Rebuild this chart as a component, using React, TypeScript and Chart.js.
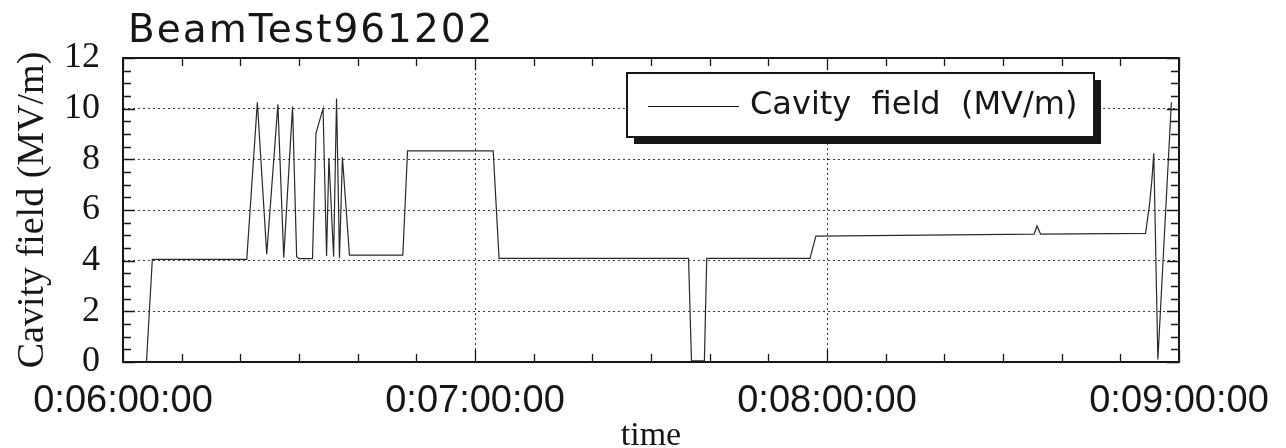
import React, { useEffect, useRef } from "react";
import { Chart, registerables } from "chart.js";

Chart.register(...registerables);

const chartTitle = "BeamTest961202";
const seriesLabel = "Cavity  field  (MV/m)";
const xAxisTitle = "time";
const yAxisTitle = "Cavity field (MV/m)";

// x axis: minutes after 0:06:00:00
const xTickValues = [0, 60, 120, 180];
const xTickLabels = ["0:06:00:00", "0:07:00:00", "0:08:00:00", "0:09:00:00"];

const timeMin = [
  4.0, 5.0, 21.1, 22.9, 24.5, 26.4, 27.4, 28.9, 29.6, 30.0, 32.3, 32.9, 34.1, 34.7,
  35.1, 35.9, 36.4, 36.9, 37.4, 38.6, 47.7, 48.5, 63.1, 64.1, 96.4, 96.9, 99.1, 99.5,
  117.1, 118.1, 155.3, 155.8, 156.4, 174.3, 175.0, 175.4, 175.7, 176.4, 178.7,
];
const fieldMV = [
  0.0, 4.05, 4.05, 10.25, 4.25, 10.17, 4.12, 10.08, 4.16, 4.08, 4.08, 9.04, 10.0, 4.18,
  8.05, 4.16, 10.4, 4.12, 8.08, 4.22, 4.22, 8.33, 8.33, 4.09, 4.09, 0.05, 0.05, 4.09,
  4.09, 4.97, 5.05, 5.37, 5.05, 5.08, 6.26, 7.25, 8.24, 0.1, 10.25,
];

const INK = "#161616";

const decorPlugin = {
  id: "decor",
  afterDatasetsDraw(chart: any) {
    const { ctx, chartArea: a, scales } = chart;
    const xs = scales.x;
    const ys = scales.y;
    ctx.save();
    // inward ticks
    ctx.strokeStyle = INK;
    ctx.lineWidth = 1.3;
    ctx.beginPath();
    for (let m = xs.min; m <= xs.max + 1e-9; m += 10) {
      const px = Math.round(xs.getPixelForValue(m)) + 0.5;
      const len = m % 60 === 0 ? 12 : 8;
      ctx.moveTo(px, a.bottom);
      ctx.lineTo(px, a.bottom - len);
      ctx.moveTo(px, a.top);
      ctx.lineTo(px, a.top + len);
    }
    for (let v = ys.min; v <= ys.max + 1e-9; v += 0.5) {
      const py = Math.round(ys.getPixelForValue(v)) + 0.5;
      const len = Math.abs(v % 2) < 1e-9 ? 12 : 8;
      ctx.moveTo(a.left, py);
      ctx.lineTo(a.left + len, py);
      ctx.moveTo(a.right, py);
      ctx.lineTo(a.right - len, py);
    }
    ctx.stroke();
    // frame
    ctx.lineWidth = 2;
    ctx.strokeRect(a.left, a.top, a.right - a.left, a.bottom - a.top);

    // legend box with shadow
    const lx = 627, ly = 73, lw = 467, lh = 64, sh = 7;
    ctx.fillStyle = INK;
    ctx.fillRect(lx + sh, ly + sh, lw, lh);
    ctx.fillStyle = "#ffffff";
    ctx.fillRect(lx, ly, lw, lh);
    ctx.lineWidth = 2;
    ctx.strokeStyle = INK;
    ctx.strokeRect(lx, ly, lw, lh);
    ctx.lineWidth = 1;
    ctx.beginPath();
    ctx.moveTo(lx + 21, ly + 33.5);
    ctx.lineTo(lx + 112, ly + 33.5);
    ctx.stroke();
    ctx.fillStyle = INK;
    ctx.font = "32px 'DejaVu Sans', sans-serif";
    ctx.textBaseline = "middle";
    ctx.textAlign = "left";
    ctx.fillText(chart.data.datasets[0].label, lx + 123, ly + 33);

    // chart title
    ctx.font = "39px 'DejaVu Sans', sans-serif";
    ctx.textBaseline = "alphabetic";
    try {
      (ctx as any).letterSpacing = "2px";
    } catch (e) {}
    ctx.fillText(chartTitle, 128, 42);
    ctx.restore();
  },
};

export default function App() {
  const ref = useRef<HTMLCanvasElement | null>(null);

  useEffect(() => {
    if (!ref.current) return;
    const points = timeMin.map((t, i) => ({ x: t, y: fieldMV[i] }));
    const chart = new Chart(ref.current, {
      type: "line",
      data: {
        datasets: [
          {
            label: seriesLabel,
            data: points,
            borderColor: "#2a2a2a",
            borderWidth: 1.2,
            pointRadius: 0,
            tension: 0,
            fill: false,
          },
        ],
      },
      options: {
        animation: false,
        responsive: false,
        maintainAspectRatio: false,
        layout: { padding: { top: 58, right: 107, bottom: 0, left: 0 } },
        plugins: {
          legend: { display: false },
          title: { display: false },
          tooltip: { enabled: false },
        },
        scales: {
          x: {
            type: "linear",
            min: 0,
            max: 180,
            afterFit: (s: any) => {
              s.height = 86;
              s.paddingLeft = 0;
              s.paddingRight = 0;
            },
            afterBuildTicks: (s: any) => {
              s.ticks = xTickValues.map((v) => ({ value: v }));
            },
            ticks: {
              autoSkip: false,
              maxRotation: 0,
              minRotation: 0,
              padding: 17,
              color: INK,
              font: { family: "'Liberation Sans Narrow', 'Arial Narrow', sans-serif", size: 38 },
              callback: (v: any) => {
                const i = xTickValues.indexOf(Number(v));
                return i >= 0 ? xTickLabels[i] : "";
              },
            },
            grid: { color: "#3a3a3a", lineWidth: 1, drawTicks: false },
            border: { display: false, dash: [2, 3] },
            title: {
              display: true,
              text: xAxisTitle,
              color: INK,
              font: { family: "'Liberation Serif', serif", size: 34, lineHeight: 0.7 },
              padding: { top: 0, bottom: 0 },
            },
          },
          y: {
            min: 0,
            max: 12,
            afterFit: (s: any) => {
              s.width = 123;
            },
            ticks: {
              stepSize: 2,
              padding: 23,
              color: INK,
              font: { family: "'Liberation Serif', serif", size: 36 },
            },
            grid: { color: "#3a3a3a", lineWidth: 1, drawTicks: false },
            border: { display: false, dash: [2, 3] },
            title: {
              display: true,
              text: yAxisTitle,
              color: INK,
              font: { family: "'Liberation Serif', serif", size: 38, lineHeight: 1 },
              padding: { top: 14, bottom: 0 },
            },
          },
        },
      },
      plugins: [decorPlugin],
    });
    return () => chart.destroy();
  }, []);

  return (
    <div
      style={{
        position: "fixed",
        left: 0,
        top: 0,
        width: 1286,
        height: 448,
        background: "#ffffff",
      }}
    >
      <canvas ref={ref} width={1286} height={448} style={{ width: 1286, height: 448, display: "block" }} />
    </div>
  );
}
